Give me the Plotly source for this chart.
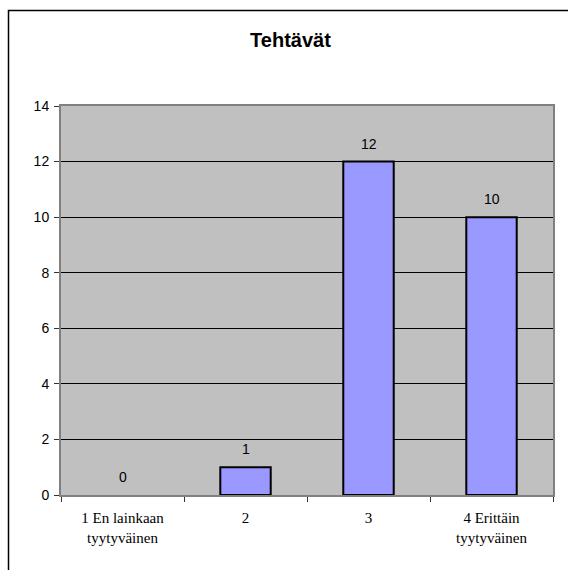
import plotly.graph_objects as go

categories = ["1 En lainkaan<br>tyytyväinen", "2", "3", "4 Erittäin<br>tyytyväinen"]
values = [0, 1, 12, 10]
title_text = "Tehtävät"
y_ticks = [0, 2, 4, 6, 8, 10, 12, 14]

W, H = 568, 570
L, R, T, B = 61, 15, 106, 75
pw = W - L - R
ph = H - T - B

fig = go.Figure()
fig.add_trace(go.Bar(
    x=categories, y=values,
    marker=dict(color="#9999FF",
                line=dict(color="black", width=[0 if v == 0 else 2 for v in values])),
    width=0.41,
    hoverinfo="skip",
))

for i, v in enumerate(values):
    fig.add_annotation(
        x=i, y=v, xref="x", yref="y", text=str(v), showarrow=False,
        yanchor="bottom", yshift=8,
        font=dict(family="Liberation Sans, Arial", size=14, color="black"),
    )

# outer chart border (extends beyond right/bottom edges)
fig.add_shape(
    type="rect", xref="paper", yref="paper",
    x0=(8.5 - L) / pw, x1=(W + 20 - L) / pw,
    y0=-(H + 20 - (H - B)) / ph, y1=((H - B) - 10.5) / ph,
    line=dict(color="black", width=1.5), fillcolor="rgba(0,0,0,0)", layer="above",
)

fig.update_layout(
    width=W, height=H,
    margin=dict(l=L, r=R, t=T, b=B, pad=0),
    paper_bgcolor="white",
    plot_bgcolor="#C0C0C0",
    showlegend=False,
    title=dict(
        text="<b>" + title_text + "</b>",
        x=290.5 / W, xref="container", xanchor="center",
        y=1 - 40 / H, yref="container", yanchor="middle",
        font=dict(family="Liberation Sans, Arial", size=20, color="black"),
    ),
    bargap=0.59,
)

fig.update_xaxes(
    type="category",
    tickson="boundaries",
    ticks="outside", ticklen=5, tickcolor="#333333", tickwidth=1,
    showline=True, linecolor="#808080", linewidth=2, mirror=True,
    showgrid=False,
    ticklabelstandoff=8,
    tickfont=dict(family="Liberation Serif, Times New Roman", size=15, color="black"),
)
fig.update_yaxes(
    range=[0, 14],
    tickvals=y_ticks,
    ticks="outside", ticklen=5, tickcolor="#333333", tickwidth=1,
    showline=True, linecolor="#808080", linewidth=2, mirror=True,
    showgrid=True, gridcolor="black", gridwidth=1,
    zeroline=False,
    ticklabelstandoff=2,
    tickfont=dict(family="Liberation Sans, Arial", size=14, color="black"),
)

fig.write_html("out.html")
